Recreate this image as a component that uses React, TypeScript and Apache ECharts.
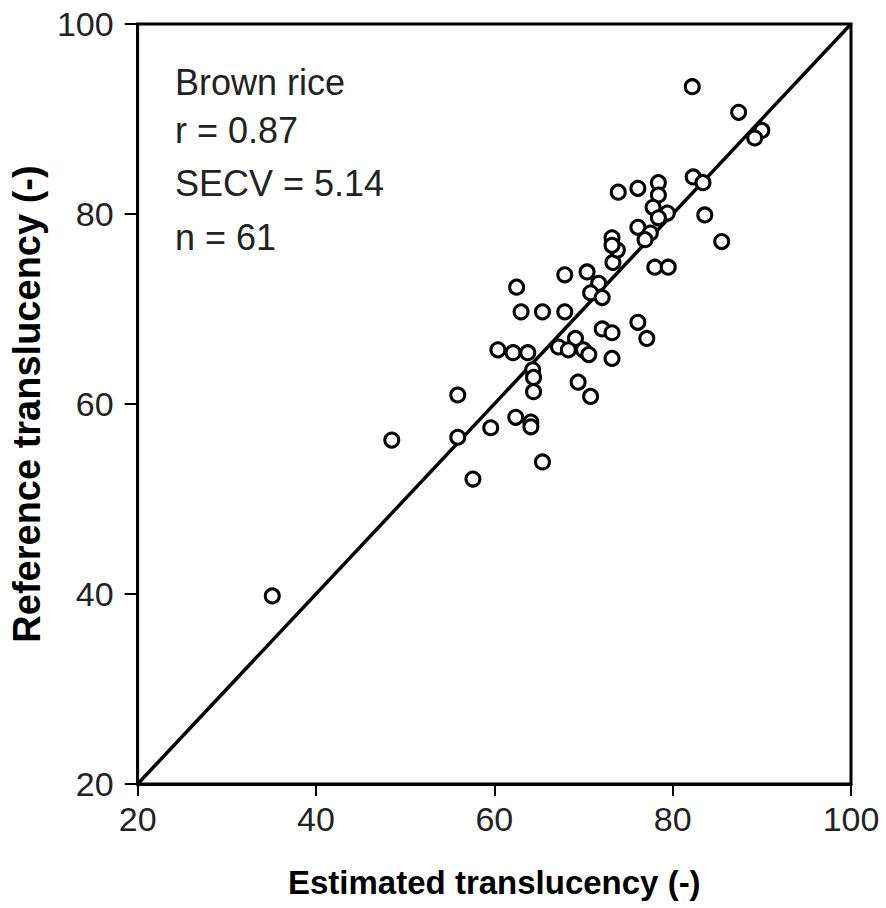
import React, { useEffect, useRef } from "react";
import * as echarts from "echarts";

const estimated: number[] = [
  35.1, 48.5, 55.9, 55.9, 57.6, 59.6, 60.4, 62.1, 63.75, 62.5,
  63.0, 65.4, 67.9, 67.9, 70.4, 71.7, 70.8, 72.1, 73.3, 73.8,
  73.2, 73.9, 76.1, 78.4, 78.4, 77.8, 79.4, 78.4, 76.1, 77.5,
  76.9, 82.2, 87.4, 90.0, 89.2, 82.3, 83.4, 83.6, 85.5, 78.0,
  79.5, 76.1, 77.1, 72.1, 73.2, 69.1, 67.2, 68.3, 70.0, 70.6,
  73.2, 64.3, 64.4, 69.4, 70.8, 62.4, 64.1, 64.1, 65.4, 64.4,
  73.2,
];
const reference: number[] = [
  39.8, 56.2, 60.95, 56.5, 52.1, 57.5, 65.7, 65.4, 65.4, 72.3,
  69.7, 69.7, 69.7, 73.6, 73.9, 72.7, 71.7, 71.2, 74.9, 76.2,
  77.5, 82.3, 82.7, 83.3, 82.0, 80.7, 80.1, 79.6, 78.6, 78.0,
  77.3, 93.4, 90.7, 88.8, 88.0, 83.9, 83.3, 79.9, 77.1, 74.4,
  74.4, 68.6, 66.9, 67.9, 67.5, 66.9, 66.0, 65.7, 65.7, 65.2,
  64.8, 63.6, 61.3, 62.3, 60.8, 58.6, 58.1, 57.6, 53.9, 62.8,
  76.7,
];
const identityLine: number[][] = [
  [20, 20],
  [100, 100],
];
const annotations: string[] = ["Brown rice", "r = 0.87", "SECV = 5.14", "n = 61"];
const annotationTops: number[] = [64, 112, 165, 219];

const FONT = "'Liberation Sans', Arial, sans-serif";

export default function App() {
  const ref = useRef<HTMLDivElement>(null);
  useEffect(() => {
    if (!ref.current) return;
    const chart = echarts.init(ref.current, null, { renderer: "svg" });
    const points = estimated.map((x, i) => [x, reference[i]]);
    chart.setOption({
      animation: false,
      backgroundColor: "#fff",
      grid: {
        left: 135,
        right: 35,
        top: 24,
        bottom: 124,
        show: true,
        borderColor: "#000",
        borderWidth: 3,
        backgroundColor: "transparent",
      },
      xAxis: {
        type: "value",
        min: 20,
        max: 100,
        interval: 20,
        name: "Estimated translucency (-)",
        nameLocation: "middle",
        nameGap: 82,
        nameTextStyle: { fontFamily: FONT, fontSize: 33, fontWeight: "bold", color: "#000" },
        axisLine: { show: true, onZero: false, lineStyle: { color: "#000", width: 3 } },
        axisTick: { show: true, inside: false, length: 12, lineStyle: { color: "#000", width: 2 } },
        axisLabel: { fontFamily: FONT, fontSize: 34, color: "#222", margin: 18 },
        splitLine: { show: false },
      },
      yAxis: {
        type: "value",
        min: 20,
        max: 100,
        interval: 20,
        name: "Reference translucency (-)",
        nameLocation: "middle",
        nameGap: 88,
        nameTextStyle: { fontFamily: FONT, fontSize: 38, fontWeight: "bold", color: "#000" },
        axisLine: { show: true, onZero: false, lineStyle: { color: "#000", width: 3 } },
        axisTick: { show: true, inside: false, length: 13, lineStyle: { color: "#000", width: 2 } },
        axisLabel: { fontFamily: FONT, fontSize: 34, color: "#222", margin: 24 },
        splitLine: { show: false },
      },
      graphic: annotations.map((t, i) => ({
        type: "text",
        left: 175,
        top: annotationTops[i],
        style: { text: t, fontFamily: FONT, fontSize: 36, fill: "#222" },
      })),
      series: [
        {
          type: "line",
          data: identityLine,
          showSymbol: false,
          symbol: "none",
          lineStyle: { color: "#000", width: 3.5 },
          z: 2,
        },
        {
          type: "scatter",
          data: points,
          symbol: "circle",
          symbolSize: 14,
          itemStyle: { color: "#fff", borderColor: "#000", borderWidth: 3, opacity: 1 },
          z: 3,
        },
      ],
    });
    return () => chart.dispose();
  }, []);
  return (
    <div
      ref={ref}
      style={{ position: "absolute", left: 0, top: 0, width: 886, height: 908 }}
    />
  );
}
